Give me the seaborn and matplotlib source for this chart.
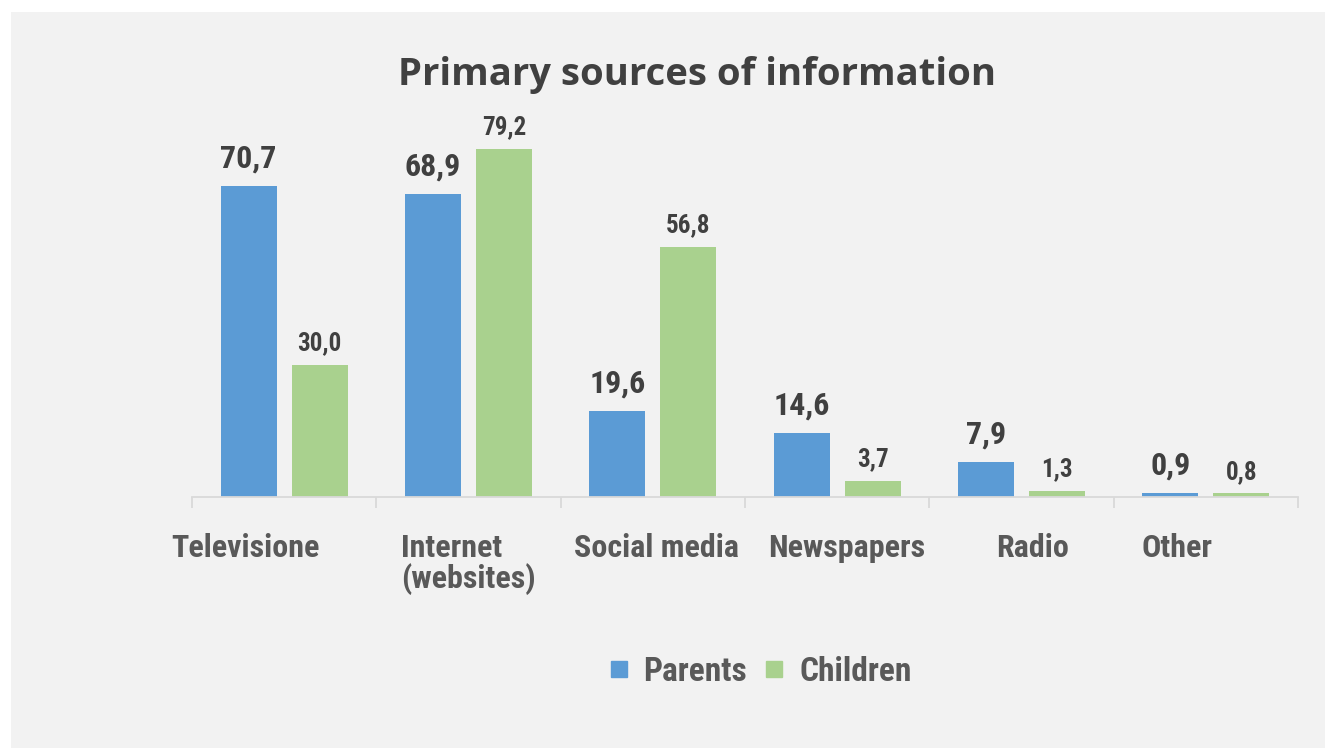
import matplotlib
matplotlib.use("Agg")
import matplotlib.pyplot as plt
import matplotlib.transforms as mtransforms
from matplotlib.lines import Line2D
from matplotlib.patches import Rectangle
import pandas as pd
import seaborn as sns

categories = ["Televisione", "Internet\n(websites)", "Social media", "Newspapers", "Radio", "Other"]
parents = [70.7, 68.9, 19.6, 14.6, 7.9, 0.9]
children = [30.0, 79.2, 56.8, 3.7, 1.3, 0.8]
series_names = ["Parents", "Children"]
title = "Primary sources of information"

BLUE = "#5b9bd5"
GREEN = "#a9d18e"
BG = "#f2f2f2"

df = pd.DataFrame({
    "category": categories * 2,
    "group": [series_names[0]] * len(categories) + [series_names[1]] * len(categories),
    "value": parents + children,
})

sns.set_theme(style="white")
COND = ["Roboto Condensed", "DejaVu Sans Condensed", "Roboto", "DejaVu Sans"]
plt.rcParams["font.family"] = COND

W, H = 1325, 748
fig = plt.figure(figsize=(W / 100, H / 100), dpi=100, facecolor="white")
fig.patches.append(Rectangle((11 / W, 0), 1 - 11 / W, 1 - 12 / H,
                             transform=fig.transFigure, facecolor=BG,
                             edgecolor="none", zorder=-10))

ax_left, ax_right = 192 / W, 1298 / W
ax_bottom = 1 - 497 / H
ymax = 85.0
px_per_unit = 311 / 70.7
ax_top = ax_bottom + ymax * px_per_unit / H
ax = fig.add_axes([ax_left, ax_bottom, ax_right - ax_left, ax_top - ax_bottom])
ax.set_facecolor("none")

sns.barplot(data=df, x="category", y="value", hue="group",
            palette=[BLUE, GREEN], width=0.772, gap=0.212,
            saturation=1, legend=False, linewidth=0, ax=ax)

ax.set_xlim(-0.5, len(categories) - 0.5)
ax.set_ylim(0, ymax)

# value labels: comma decimal separator, larger for the first series
sizes = [23, 18]
pads = [9, 7]
for cont, vals, fs, pad in zip(ax.containers, [parents, children], sizes, pads):
    ax.bar_label(cont, labels=[f"{v:.1f}".replace(".", ",") for v in vals],
                 padding=pad, fontsize=fs, fontweight="bold", color="#404040",
                 family=COND)

# axes styling
for s in ["top", "right", "left"]:
    ax.spines[s].set_visible(False)
ax.spines["bottom"].set_color("#d9d9d9")
ax.spines["bottom"].set_linewidth(1.3)
ax.set_yticks([])
ax.set_xlabel("")
ax.set_ylabel("")

ax.set_xticks(range(len(categories)))
ax.set_xticklabels(categories, fontsize=23, fontweight="bold", color="#595959",
                   linespacing=1.0)
ax.set_xticks([i - 0.5 for i in range(len(categories) + 1)], minor=True)
ax.tick_params(axis="x", which="major", length=0, pad=26)
ax.tick_params(axis="x", which="minor", length=8, width=1.3, color="#d9d9d9",
               bottom=True)

offsets_px = [-39, 0, 4, 10, 11, -29]
for lbl, dx in zip(ax.get_xticklabels(), offsets_px):
    lbl.set_multialignment("left")
    lbl.set_transform(lbl.get_transform() +
                      mtransforms.ScaledTranslation(dx / 100, 0, fig.dpi_scale_trans))

fig.text(697 / W, 1 - 75 / H, title, ha="center", va="center",
         fontsize=27.5, fontweight="bold", color="#404040",
         family=["Open Sans", "DejaVu Sans"])

handles = [Line2D([], [], marker="s", linestyle="none", markersize=12,
                  markerfacecolor=c, markeredgecolor=c) for c in [BLUE, GREEN]]
leg = fig.legend(handles, series_names, loc="center",
                 bbox_to_anchor=(760 / W, 1 - 672 / H), ncol=2, frameon=False,
                 handlelength=0.6, handletextpad=0.45, columnspacing=0.5,
                 prop={"size": 24, "weight": "bold", "family": COND})
for t in leg.get_texts():
    t.set_color("#595959")

fig.savefig("out.png", dpi=100, facecolor="white")
